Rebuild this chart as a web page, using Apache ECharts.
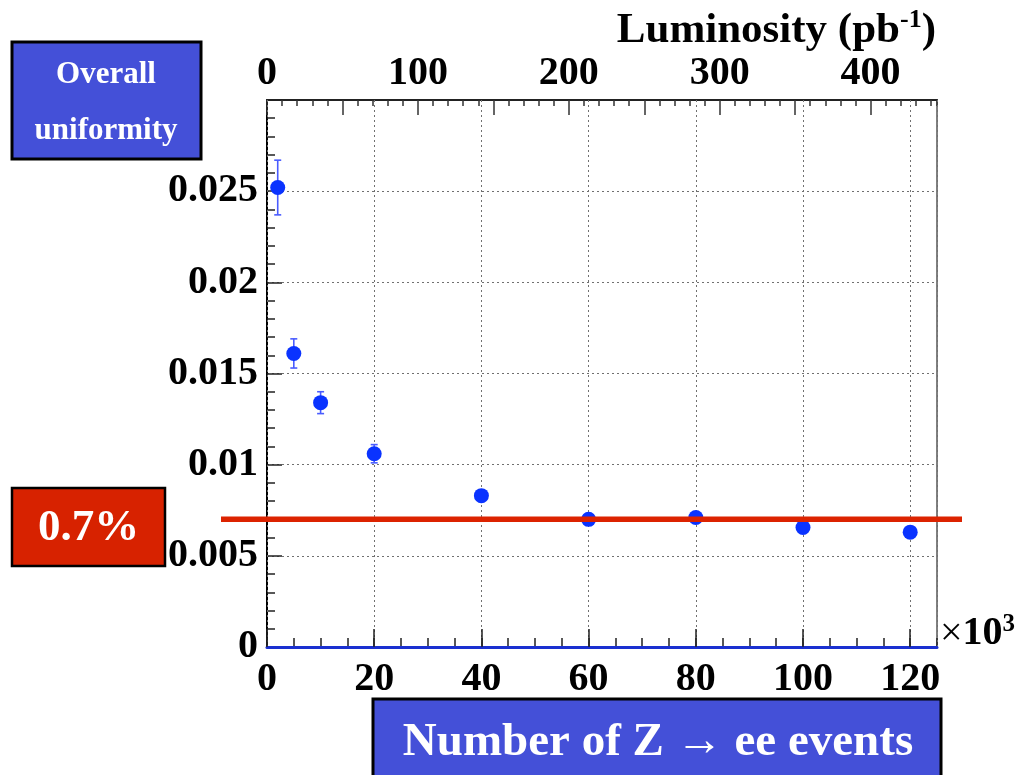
<!DOCTYPE html>
<html>
<head>
<meta charset="utf-8">
<script src="https://cdn.jsdelivr.net/npm/echarts@6/dist/echarts.min.js"></script>
<style>
  html, body { margin: 0; padding: 0; background: #ffffff; }
  #chart { width: 1018px; height: 775px; }
</style>
</head>
<body>
<div id="chart"></div>
<script>
// Number of Z -> ee events (in thousands)
const nEvents = [2, 5, 10, 20, 40, 60, 80, 100, 120];
// Overall uniformity and its statistical error
const uniformity = [0.0252, 0.0161, 0.0134, 0.0106, 0.0083, 0.0070, 0.0071, 0.00655, 0.0063];
const uniformityErr = [0.0015, 0.0008, 0.0006, 0.0005, 0.0003, 0.0002, 0.0002, 0.0002, 0.0002];
// Target level (0.7%)
const targetLevel = 0.007;
const targetLabel = '0.7%';
// Axis ranges
const eventsMax = 125;
const lumiMax = 444;
const uniformityMax = 0.03;

const FONT = "'Liberation Serif', 'Times New Roman', serif";
const tickLabel = { fontFamily: FONT, fontSize: 40, fontWeight: 'bold', color: '#000' };
const dotted = { show: true, lineStyle: { type: [2, 3], color: '#707070', width: 1 } };

const chart = echarts.init(document.getElementById('chart'), null, { renderer: 'canvas' });

const option = {
  backgroundColor: '#ffffff',
  animation: false,
  grid: {
    left: 267, top: 100, right: 81, bottom: 128,
    show: true, borderColor: '#808080', borderWidth: 2, backgroundColor: 'transparent'
  },
  xAxis: [
    { // events axis, major ticks and labels
      type: 'value', position: 'bottom', min: 0, max: eventsMax, interval: 20,
      axisLine: { show: true, onZero: false, lineStyle: { color: '#1a30d0', width: 3 } },
      axisTick: { show: true, inside: true, length: 18, lineStyle: { color: '#222', width: 1.5 } },
      axisLabel: Object.assign({ margin: 13, showMaxLabel: false }, tickLabel),
      splitLine: dotted,
      z: 4
    },
    { // events axis, minor ticks
      type: 'value', position: 'bottom', min: 0, max: eventsMax, interval: 5,
      axisLine: { show: false, onZero: false },
      axisTick: { show: true, inside: true, length: 9, lineStyle: { color: '#222', width: 1.5 } },
      axisLabel: { show: false },
      splitLine: { show: false }
    },
    { // luminosity axis, major ticks and labels
      type: 'value', position: 'top', min: 0, max: lumiMax, interval: 50,
      axisLine: { show: true, onZero: false, lineStyle: { color: '#222', width: 2 } },
      axisTick: { show: true, inside: true, length: 15, lineStyle: { color: '#333', width: 1.5 } },
      axisLabel: Object.assign({
        margin: 6, showMaxLabel: false,
        formatter: v => (v % 100 === 0 ? String(v) : '')
      }, tickLabel),
      splitLine: { show: false }
    },
    { // luminosity axis, minor ticks
      type: 'value', position: 'top', min: 0, max: lumiMax, interval: 10,
      axisLine: { show: false, onZero: false },
      axisTick: { show: true, inside: true, length: 6, lineStyle: { color: '#333', width: 1.5 } },
      axisLabel: { show: false },
      splitLine: { show: false }
    }
  ],
  yAxis: [
    {
      type: 'value', position: 'left', min: 0, max: uniformityMax, interval: 0.005,
      axisLine: { show: true, onZero: false, lineStyle: { color: '#000', width: 2 } },
      axisTick: { show: true, inside: true, length: 15, lineStyle: { color: '#222', width: 1.5 } },
      minorTick: { show: true, splitNumber: 5, length: 8, lineStyle: { color: '#222', width: 1.5 } },
      axisLabel: Object.assign({
        margin: 9, showMaxLabel: false, padding: [8, 0, 0, 0],
        formatter: v => String(+v.toFixed(4))
      }, tickLabel),
      splitLine: dotted
    }
  ],
  series: [
    {
      type: 'custom',
      xAxisIndex: 0, yAxisIndex: 0,
      data: nEvents.map((x, i) => [x, uniformity[i] - uniformityErr[i], uniformity[i] + uniformityErr[i]]),
      encode: { x: 0, y: [1, 2] },
      z: 5,
      renderItem: function (params, api) {
        const x = api.value(0);
        const top = api.coord([x, api.value(2)]);
        const bot = api.coord([x, api.value(1)]);
        const cap = 3.5;
        const style = { stroke: '#4a5cff', lineWidth: 1.6 };
        return {
          type: 'group',
          children: [
            { type: 'line', shape: { x1: top[0], y1: top[1], x2: bot[0], y2: bot[1] }, style: style },
            { type: 'line', shape: { x1: top[0] - cap, y1: top[1], x2: top[0] + cap, y2: top[1] }, style: style },
            { type: 'line', shape: { x1: bot[0] - cap, y1: bot[1], x2: bot[0] + cap, y2: bot[1] }, style: style }
          ]
        };
      }
    },
    {
      type: 'scatter',
      xAxisIndex: 0, yAxisIndex: 0,
      data: nEvents.map((x, i) => [x, uniformity[i]]),
      symbol: 'circle',
      symbolSize: 15,
      itemStyle: { color: '#0a33ff', opacity: 1 },
      z: 6
    }
  ]
};

chart.setOption(option);

// Target line across the plot, placed through the value scale
const yTarget = chart.convertToPixel({ yAxisIndex: 0 }, targetLevel);

chart.setOption({
  graphic: [
    {
      type: 'line', z: 100,
      shape: { x1: 221, y1: yTarget, x2: 962, y2: yTarget },
      style: { stroke: '#dc2300', lineWidth: 5.5 }
    },
    {
      type: 'group', z: 110,
      children: [
        { type: 'rect', shape: { x: 12, y: 488, width: 153, height: 78 },
          style: { fill: '#d72200', stroke: '#000', lineWidth: 2.5 } },
        { type: 'text', x: 88.5, y: 528,
          style: { text: targetLabel, fill: '#fff', font: 'bold 45px ' + FONT, align: 'center', verticalAlign: 'middle' } }
      ]
    },
    {
      type: 'group', z: 110,
      children: [
        { type: 'rect', shape: { x: 12, y: 42, width: 189, height: 117 },
          style: { fill: '#4450d8', stroke: '#000', lineWidth: 3 } },
        { type: 'text', x: 106, y: 75,
          style: { text: 'Overall', fill: '#fff', font: 'bold 31px ' + FONT, align: 'center', verticalAlign: 'middle' } },
        { type: 'text', x: 106, y: 131,
          style: { text: 'uniformity', fill: '#fff', font: 'bold 31px ' + FONT, align: 'center', verticalAlign: 'middle' } }
      ]
    },
    {
      type: 'group', z: 110,
      children: [
        { type: 'rect', shape: { x: 373, y: 699, width: 568, height: 90 },
          style: { fill: '#4450d8', stroke: '#000', lineWidth: 3 } },
        { type: 'text', x: 658, y: 743,
          style: { text: 'Number of Z \u2192 ee events', fill: '#fff', font: 'bold 47px ' + FONT, align: 'center', verticalAlign: 'middle' } }
      ]
    },
    {
      type: 'text', z: 110, x: 936, y: 7,
      style: {
        text: '{n|Luminosity (pb}{s|-1}{n|)}',
        align: 'right', verticalAlign: 'top',
        rich: {
          n: { fontFamily: FONT, fontSize: 43, fontWeight: 'bold', fill: '#000', lineHeight: 48 },
          s: { fontFamily: FONT, fontSize: 26, fontWeight: 'bold', fill: '#000', verticalAlign: 'top', lineHeight: 48 }
        }
      }
    },
    {
      type: 'text', z: 110, x: 940, y: 612,
      style: {
        text: '{m|\u00d7}{n|10}{s|3}',
        align: 'left', verticalAlign: 'top',
        rich: {
          m: { fontFamily: FONT, fontSize: 40, fill: '#000', lineHeight: 44 },
          n: { fontFamily: FONT, fontSize: 40, fontWeight: 'bold', fill: '#000', lineHeight: 44 },
          s: { fontFamily: FONT, fontSize: 25, fontWeight: 'bold', fill: '#000', verticalAlign: 'top', lineHeight: 44 }
        }
      }
    }
  ]
});
</script>
</body>
</html>
